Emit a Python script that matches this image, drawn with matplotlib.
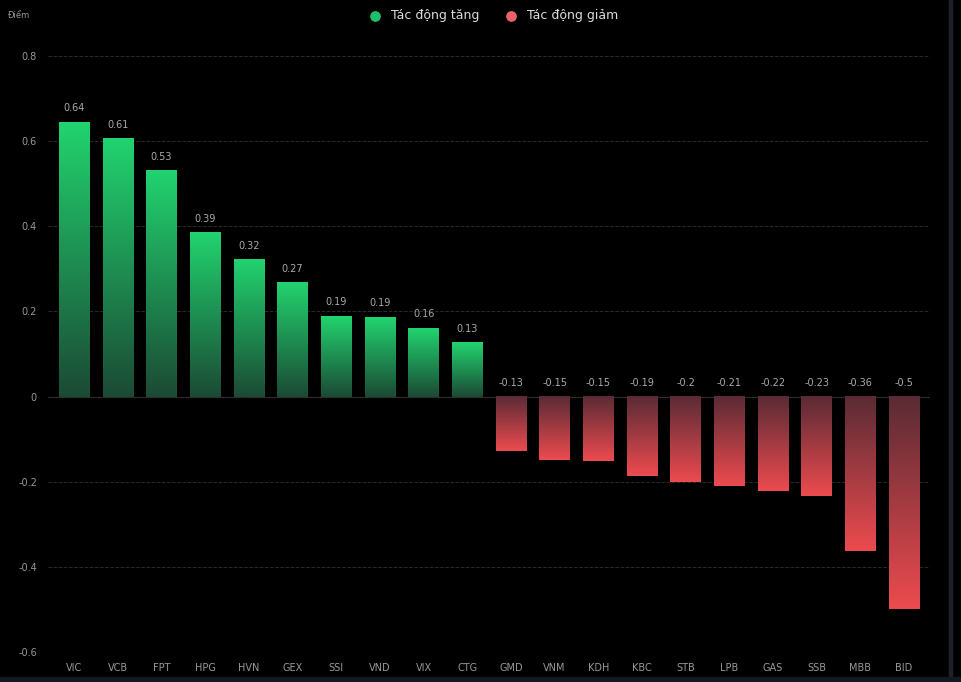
import numpy as np
import matplotlib
matplotlib.use("Agg")
import matplotlib.pyplot as plt
from matplotlib.colors import LinearSegmentedColormap

tickers = ["VIC", "VCB", "FPT", "HPG", "HVN", "GEX", "SSI", "VND", "VIX", "CTG",
           "GMD", "VNM", "KDH", "KBC", "STB", "LPB", "GAS", "SSB", "MBB", "BID"]
values = [0.645, 0.607, 0.532, 0.386, 0.322, 0.268, 0.19, 0.187, 0.161, 0.127,
          -0.128, -0.148, -0.152, -0.187, -0.2, -0.211, -0.222, -0.233, -0.362, -0.498]
labels = ["0.64", "0.61", "0.53", "0.39", "0.32", "0.27", "0.19", "0.19", "0.16", "0.13",
          "-0.13", "-0.15", "-0.15", "-0.19", "-0.2", "-0.21", "-0.22", "-0.23", "-0.36", "-0.5"]

bg = "#000000"
fig = plt.figure(figsize=(9.61, 6.82), dpi=100, facecolor=bg)
ax = fig.add_axes([0.05, 0.044, 0.918, 0.874], facecolor=bg)

green = LinearSegmentedColormap.from_list("g", ["#1b4a35", "#22d36f"])
red = LinearSegmentedColormap.from_list("r", ["#5a2b35", "#ec4b4f"])
grad = np.linspace(0, 1, 256).reshape(-1, 1)
w = 0.7
for i, v in enumerate(values):
    if v >= 0:
        ax.imshow(grad, cmap=green, origin="lower", aspect="auto",
                  extent=(i - w / 2, i + w / 2, 0, v), zorder=2)
        ax.text(i, v + 0.02, labels[i], ha="center", va="bottom", color="#aaaaaa", fontsize=7)
    else:
        ax.imshow(grad, cmap=red, origin="upper", aspect="auto",
                  extent=(i - w / 2, i + w / 2, v, 0), zorder=2)
        ax.text(i, 0.02, labels[i], ha="center", va="bottom", color="#aaaaaa", fontsize=7)

ax.set_xlim(-0.6, len(values) - 0.4)
ax.set_ylim(-0.6, 0.8)
ax.set_yticks([-0.6, -0.4, -0.2, 0, 0.2, 0.4, 0.6, 0.8])
ax.set_yticklabels(["-0.6", "-0.4", "-0.2", "0", "0.2", "0.4", "0.6", "0.8"])
ax.set_xticks(range(len(tickers)))
ax.set_xticklabels(tickers)
ax.tick_params(colors="#999999", labelsize=7, length=0, pad=8)
ax.grid(axis="y", color="#2a2a2a", linestyle="--", linewidth=0.7, zorder=0)
ax.axhline(0, color="#333333", linewidth=0.8, zorder=1)
for s in ax.spines.values():
    s.set_visible(False)

fig.text(0.008, 0.978, "Điểm", color="#999999", fontsize=6, va="center")
ax.scatter([], [], color="#1fbf6a", s=45, label="Tác động tăng")
ax.scatter([], [], color="#e8636b", s=45, label="Tác động giảm")
fig.legend(loc="center", bbox_to_anchor=(0.51, 0.977), ncol=2, frameon=False,
           labelcolor="#dddddd", fontsize=9, handletextpad=0.3, columnspacing=1.5)

# right scrollbar and bottom strip
fig.patches.append(plt.Rectangle((0.987, 0), 0.004, 1, transform=fig.transFigure, color="#1e2228"))
fig.patches.append(plt.Rectangle((0, 0), 1, 0.008, transform=fig.transFigure, color="#141820"))

fig.savefig("out.png", dpi=100, facecolor=bg)
